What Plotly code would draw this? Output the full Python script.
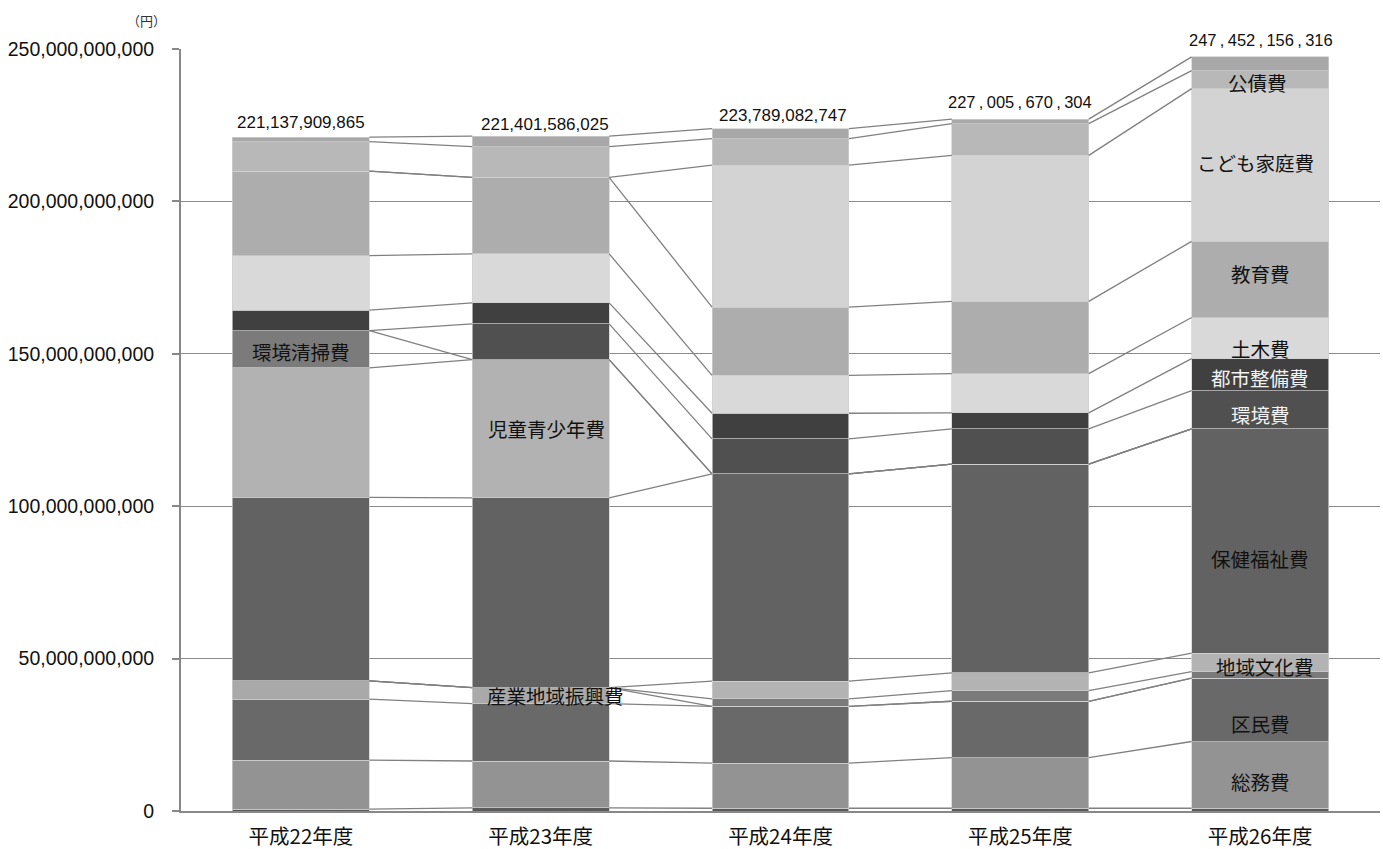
import plotly.graph_objects as go

# ---------------- data ----------------
years = ["平成22年度", "平成23年度", "平成24年度", "平成25年度", "平成26年度"]

# series, bottom -> top (values in billions of yen)
series_names = ["議会費", "総務費", "区民費", "産業地域振興費", "産業経済費", "地域文化費",
                "保健福祉費", "児童青少年費", "環境清掃費", "環境費", "都市整備費",
                "土木費", "教育費", "こども家庭費", "公債費", "諸支出金"]

gikai      = [0.6, 1.0, 0.9, 0.9, 0.9]
somu       = [16.1, 15.4, 14.8, 16.6, 21.9]
kumin      = [20.0, 18.8, 18.6, 18.5, 20.8]
sangyo_chi = [6.0, 5.3, 0.0, 0.0, 0.0]
sangyo     = [0.0, 0.0, 2.5, 3.5, 2.1]
chiiki     = [0.0, 0.0, 5.8, 5.8, 6.1]
hoken      = [60.2, 62.2, 68.0, 68.5, 73.6]
jido       = [42.5, 45.4, 0.0, 0.0, 0.0]
kankyo_sei = [12.2, 0.0, 0.0, 0.0, 0.0]
kankyo     = [0.0, 11.7, 11.5, 11.6, 12.5]
toshi      = [6.7, 6.9, 8.4, 5.2, 10.5]
doboku     = [17.9, 16.1, 12.4, 12.9, 13.5]
kyoiku     = [27.7, 25.1, 22.4, 23.7, 25.0]
kodomo     = [0.0, 0.0, 46.6, 47.9, 50.1]
kosai      = [9.7, 10.1, 8.7, 10.4, 5.9]
shoshi     = [1.5, 3.4, 3.3, 1.5, 4.5]

series_values = [gikai, somu, kumin, sangyo_chi, sangyo, chiiki, hoken, jido,
                 kankyo_sei, kankyo, toshi, doboku, kyoiku, kodomo, kosai, shoshi]

total_labels = ["221,137,909,865", "221,401,586,025", "223,789,082,747",
                "227,005,670,304", "247,452,156,316"]

# which segments carry a text label: (series name, year index)
label_series = ["環境清掃費", "児童青少年費", "産業地域振興費",
                "公債費", "こども家庭費", "教育費", "土木費", "都市整備費",
                "環境費", "保健福祉費", "地域文化費", "区民費", "総務費"]
label_year = [0, 1, 1, 4, 4, 4, 4, 4, 4, 4, 4, 4, 4]

# ---------------- style ----------------
colors = ["#5a5a5a", "#939393", "#696969", "#a9a9a9", "#7a7a7a", "#b3b3b3",
          "#626262", "#b2b2b2", "#7b7b7b", "#505050", "#404040",
          "#d9d9d9", "#adadad", "#d3d3d3", "#b8b8b8", "#a8a8a8"]
label_xshift = [0, 6, 15, -3, -5, 0, 0, 0, 0, 0, 5, 0, 0]
label_yshift = [-2, 0, 0, -3, 2, 6, -10, -3, -5, -18, -4, -14, -7]
label_color = ["#111111", "#111111", "#111111", "#111111", "#111111", "#111111",
               "#111111", "#f2f2f2", "#f2f2f2", "#111111", "#111111", "#111111", "#111111"]
total_xshift = [0, 4, 2, 0, 1]
total_yshift = [15, 12, 13, 17, 17]

SCALE = 1e9
BAR_W = 0.571
LINE_C = "#808080"
FONT = "Liberation Sans, Arial, Noto Sans CJK JP, sans-serif"
JFONT = "Noto Sans CJK JP, sans-serif"

xs = list(range(len(years)))
fig = go.Figure()

# stacked bars
for name, vals, col in zip(series_names, series_values, colors):
    fig.add_trace(go.Bar(
        x=xs, y=[v * SCALE for v in vals], name=name, width=BAR_W,
        marker=dict(color=col, line=dict(color="#d0d0d0", width=0.7)),
        showlegend=False, hoverinfo="skip"))

# cumulative tops / bottoms
tops, bottoms = [], []
run = [0.0] * len(years)
for vals in series_values:
    bottoms.append(run[:])
    run = [r + v for r, v in zip(run, vals)]
    tops.append(run[:])

# connector lines between adjacent bars
cx, cy = [], []
for t in tops:
    for i in range(len(years) - 1):
        cx += [xs[i] + BAR_W / 2, xs[i + 1] - BAR_W / 2, None]
        cy += [t[i] * SCALE, t[i + 1] * SCALE, None]
fig.add_trace(go.Scatter(x=cx, y=cy, mode="lines",
                         line=dict(color=LINE_C, width=1.3),
                         showlegend=False, hoverinfo="skip"))

annotations = []
# segment labels
for name, yi, dx, dy, tc in zip(label_series, label_year, label_xshift, label_yshift, label_color):
    k = series_names.index(name)
    yc = (bottoms[k][yi] + tops[k][yi]) / 2 * SCALE
    annotations.append(dict(x=xs[yi], y=yc, text=name, showarrow=False,
                            xshift=dx, yshift=dy,
                            font=dict(family=JFONT, size=19.5, color=tc)))

# total labels
for i, (lab, dx, dy) in enumerate(zip(total_labels, total_xshift, total_yshift)):
    txt = lab if i < 3 else lab.replace(",", "\u2009,\u2009")
    annotations.append(dict(x=xs[i], y=tops[-1][i] * SCALE, text=txt, showarrow=False,
                            xshift=dx, yshift=dy, yanchor="middle",
                            font=dict(family=FONT, size=17 if i < 3 else 16.5, color="#111111")))

# unit label
annotations.append(dict(xref="paper", yref="paper", x=-0.0284, y=1.038, text="（円）",
                        showarrow=False, xanchor="center", yanchor="middle",
                        font=dict(family=JFONT, size=13, color="#333333")))

fig.update_layout(
    barmode="stack",
    width=1383, height=849,
    margin=dict(l=181, r=3, t=49, b=38, autoexpand=False),
    paper_bgcolor="white", plot_bgcolor="white",
    annotations=annotations,
    font=dict(family=FONT, color="#111111"),
    xaxis=dict(range=[-0.5, len(years) - 0.5], tickvals=xs, ticktext=years,
               tickfont=dict(family=JFONT, size=20.5, color="#111111"),
               showline=True, linecolor="#888888", linewidth=1.5,
               ticks="", showgrid=False, zeroline=False, ticklabelstandoff=7,
               automargin=False),
    yaxis=dict(range=[0, 250e9], tickvals=[0, 50e9, 100e9, 150e9, 200e9, 250e9],
               tickformat=",d", tickfont=dict(family=FONT, size=19.5, color="#111111"),
               showline=True, linecolor="#888888", linewidth=2,
               ticks="outside", ticklen=7, tickcolor="#888888", tickwidth=1.5,
               showgrid=True, gridcolor="#8a8a8a", gridwidth=1.3,
               zeroline=False, ticklabelstandoff=14, automargin=False),
)

fig.write_html("out.html", config={"displayModeBar": False},
               post_script="document.body.style.margin='0';document.body.style.overflow='hidden';")
